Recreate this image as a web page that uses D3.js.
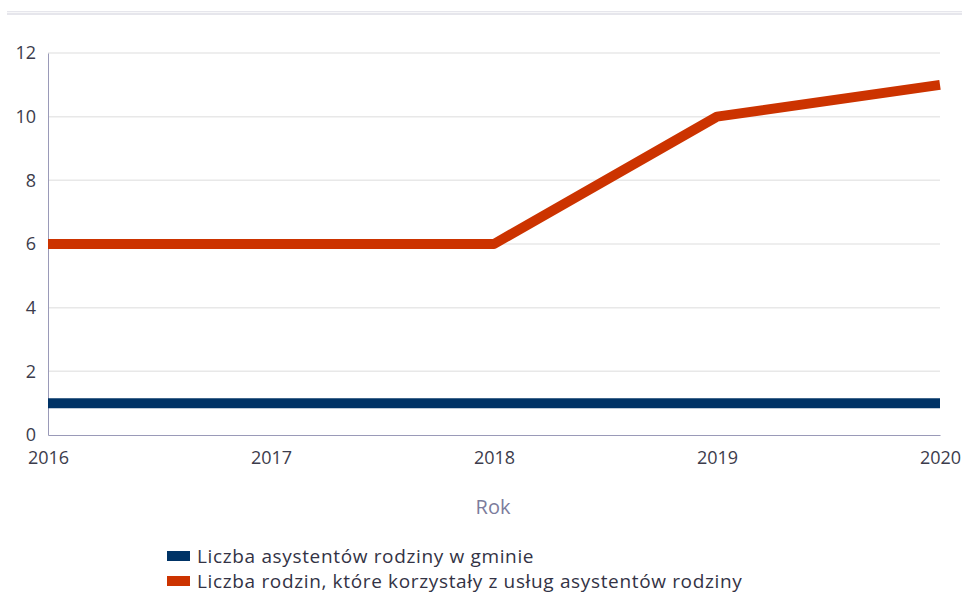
<!DOCTYPE html>
<html lang="pl">
<head>
<meta charset="utf-8">
<title>Asystenci rodziny</title>
<script src="https://d3js.org/d3.v7.min.js"></script>
<style>
  body { margin: 0; background: #fff; }
  #chart text { font-family: "Open Sans", sans-serif; }
</style>
</head>
<body>
<div id="chart"></div>
<script>
"use strict"

// dane
var lata = [2016, 2017, 2018, 2019, 2020];
var asystenci = [1, 1, 1, 1, 1];
var rodziny = [6, 6, 6, 10, 11];
var yTicks = [0, 2, 4, 6, 8, 10, 12];
var serie = [
  { nazwa: "Liczba asystentów rodziny w gminie", wartosci: asystenci, kolor: "#003366" },
  { nazwa: "Liczba rodzin, które korzystały z usług asystentów rodziny", wartosci: rodziny, kolor: "#cc3300" }
];

var larguraSVG = 962, alturaSVG = 593;
var margin = {top: 53, right: 22, bottom: 158, left: 48};
var larguraVis = larguraSVG - margin.left - margin.right,
    alturaVis = alturaSVG - margin.top - margin.bottom;

var svg = d3.select("#chart").append("svg")
  .attr("width", larguraSVG)
  .attr("height", alturaSVG);

// linia pod (uciętym) tytułem
svg.append("rect")
  .attr("x", 7).attr("y", 11).attr("width", 955).attr("height", 4)
  .attr("fill", "#e6e6ec");
svg.append("rect")
  .attr("x", 7).attr("y", 12).attr("width", 955).attr("height", 1)
  .attr("fill", "#f7f7f9");

var g = svg.append("g")
  .attr("transform", "translate(" + margin.left + "," + margin.top + ")");

var x = d3.scaleLinear().domain([2016, 2020]).range([0, larguraVis]);
var y = d3.scaleLinear().domain([0, 12]).range([alturaVis, 0]);

// siatka
g.selectAll(".grid")
  .data(yTicks.filter(d => d > 0))
  .enter().append("line")
    .attr("x1", 0).attr("x2", larguraVis)
    .attr("y1", d => y(d)).attr("y2", d => y(d))
    .attr("stroke", "#e8e8e8").attr("stroke-width", 1.5);

// osie
var osY = g.append("g")
  .call(d3.axisLeft(y).tickValues(yTicks).tickSize(0).tickPadding(12));
osY.select(".domain").attr("stroke", "#9a9ab8");
osY.selectAll("text").attr("font-size", 18).attr("fill", "#3c3c4c");

var osX = g.append("g")
  .attr("transform", "translate(0," + alturaVis + ")")
  .call(d3.axisBottom(x).tickValues(lata).tickFormat(d3.format("d")).tickSize(0).tickPadding(16));
osX.select(".domain").attr("stroke", "#9a9ab8");
osX.selectAll("text").attr("font-size", 18).attr("fill", "#3c3c4c");

g.append("text")
  .attr("x", 445).attr("y", alturaVis + 79)
  .attr("text-anchor", "middle")
  .attr("font-size", 20)
  .attr("fill", "#7c7c9c")
  .text("Rok");

// linie
var linha = d3.line()
  .x((d, i) => x(lata[i]))
  .y(d => y(d));

g.selectAll(".serie")
  .data(serie)
  .enter().append("path")
    .attr("d", d => linha(d.wartosci))
    .attr("fill", "none")
    .attr("stroke", d => d.kolor)
    .attr("stroke-width", 10)
    .attr("stroke-linejoin", "round");

// legenda
var legenda = svg.append("g").attr("transform", "translate(167,549)");
var item = legenda.selectAll("g")
  .data(serie)
  .enter().append("g")
    .attr("transform", (d, i) => "translate(0," + i * 25 + ")");
item.append("rect")
  .attr("width", 23).attr("height", 10).attr("y", 2)
  .attr("fill", d => d.kolor);
item.append("text")
  .attr("x", 30).attr("y", 14)
  .attr("font-size", 19)
  .attr("letter-spacing", 0.65)
  .attr("fill", "#333345")
  .text(d => d.nazwa);
</script>
</body>
</html>
